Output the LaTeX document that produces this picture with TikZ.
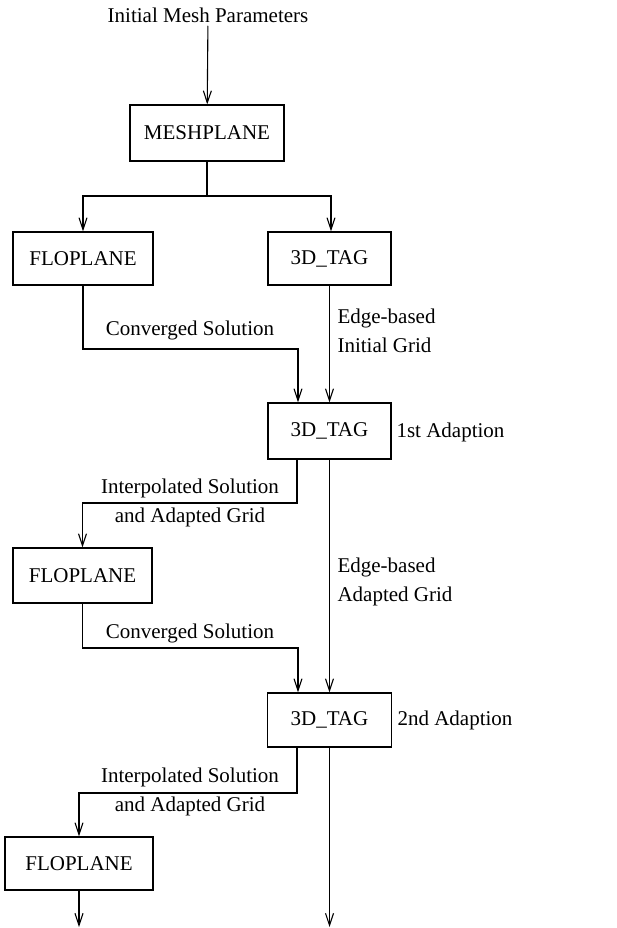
\documentclass[tikz,border=0pt]{standalone}
\usepackage{fontspec}
\setmainfont{Liberation Serif}
\usetikzlibrary{arrows.meta}
\begin{document}
\begin{tikzpicture}[x=1pt,y=-1pt,
  font=\fontsize{21}{29}\selectfont,
  line width=1.1pt,
  arr/.style={-{Straight Barb[length=12pt,width=8pt,line width=1.1pt]}},
  box/.style={draw,inner sep=0pt,minimum height=55pt},
  lbl/.style={inner sep=2pt,align=center},
  lbll/.style={inner sep=2pt,align=left,anchor=west}]
\useasboundingbox (0,0) rectangle (616,928);
% nodes
\node[lbl,anchor=base] (init) at (208,23) {Initial Mesh Parameters};
\node[box,minimum width=154pt,minimum height=56pt] (mesh) at (207,133) {MESHPLANE};
\node[box,minimum width=140pt,minimum height=53pt] (flo1) at (83,258.5) {FLOPLANE};
\node[box,minimum width=123pt,minimum height=53pt] (tag1) at (329.5,258.5) {3D\_TAG};
\node[box,minimum width=123pt,minimum height=56pt] (tag2) at (329.5,431) {3D\_TAG};
\node[box,minimum width=139pt,minimum height=55pt] (flo2) at (82.5,575.5) {FLOPLANE};
\node[box,minimum width=124pt,minimum height=54pt] (tag3) at (329.5,720) {3D\_TAG};
\node[box,minimum width=148pt,minimum height=53pt] (flo3) at (79,863.5) {FLOPLANE};
% labels
\node[lbl] (conv1) at (190,330) {Converged Solution};
\node[lbll] (edge1) at (335,331) {Edge-based\\Initial Grid};
\node[lbll] (ad1) at (394,432) {1st Adaption};
\node[lbl] (int1) at (190,503) {Interpolated Solution\\and Adapted Grid};
\node[lbll] (edge2) at (335,582) {Edge-based\\Adapted Grid};
\node[lbl] (conv2) at (190,633) {Converged Solution};
\node[lbll] (ad2) at (395,720) {2nd Adaption};
\node[lbl] (int2) at (190,792) {Interpolated Solution\\and Adapted Grid};
% coordinates
\coordinate (split) at (207,196);
\coordinate (end1) at (79,927);
\coordinate (end2) at (329.5,927);
% connectors
\draw[arr] (init) -- (mesh);
\draw (mesh.south) -- (split);
\draw[arr] (split) -| (flo1.north);
\draw[arr] (split) -| ([xshift=1.5pt]tag1.north);
\draw[arr] (flo1.south) |- (190,349) -| ([xshift=-31.5pt]tag2.north);
\draw[arr] (tag1) -- (tag2);
\draw[arr] ([xshift=-32.5pt]tag2.south) |- (190,503) -| (flo2.north);
\draw[arr] (tag2) -- (tag3);
\draw[arr] (flo2.south) |- (190,648) -| ([xshift=-31.5pt]tag3.north);
\draw[arr] ([xshift=-32.5pt]tag3.south) |- (190,793) -| (flo3.north);
\draw[arr] (flo3.south) -- (end1);
\draw[arr] (tag3.south) -- (end2);
\end{tikzpicture}
\end{document}
